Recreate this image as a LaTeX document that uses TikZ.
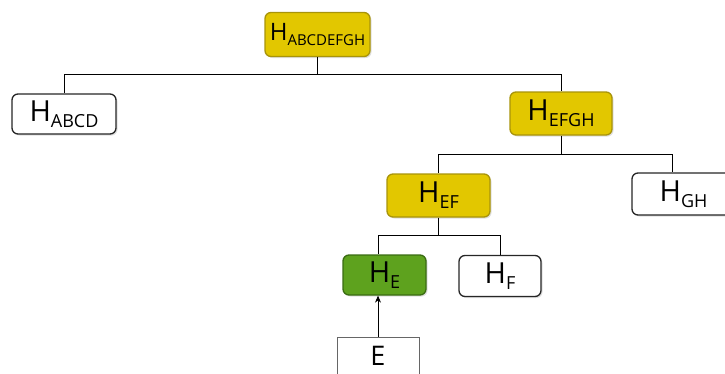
\documentclass[tikz,border=0pt]{standalone}
\usepackage{fontspec}
\setmainfont{Open Sans}
\usetikzlibrary{shadows,arrows.meta}

\definecolor{pfadgelb}{RGB}{226,199,0}
\definecolor{pfadrand}{RGB}{168,148,10}
\definecolor{blattgruen}{RGB}{94,162,30}
\definecolor{blattrand}{RGB}{58,108,18}

% Hash-Bezeichnung mit tiefgestelltem Index
\newcommand{\hashlabel}[1]{H\raisebox{-6pt}{\fontsize{18}{18}\selectfont #1}}

\begin{document}
\begin{tikzpicture}[x=1pt,y=-1pt,
  hknoten/.style={draw=black!85,line width=1.3pt,rounded corners=6pt,fill=white,
    inner sep=0pt,minimum width=103pt,minimum height=42pt,
    font=\fontsize{29}{30}\selectfont,
    drop shadow={opacity=0.25,shadow xshift=1.5pt,shadow yshift=-1.5pt}},
  pfad/.style={hknoten,fill=pfadgelb,draw=pfadrand},
  blatt/.style={hknoten,fill=blattgruen,draw=blattrand},
  daten/.style={draw=black!60,line width=0.6pt,fill=white,inner sep=0pt,
    minimum width=82pt,minimum height=38pt,font=\fontsize{27}{28}\selectfont},
  kante/.style={draw=black,line width=0.8pt}]
\useasboundingbox (0,0) rectangle (725,373);

% Knoten
\node[pfad,minimum width=105pt,minimum height=44pt,font=\fontsize{24}{25}\selectfont] (wurzel) at (317.5,34.5)
  {H\raisebox{-4.5pt}{\fontsize{15}{15}\selectfont ABCDEFGH}};
\node[hknoten,minimum width=104pt,minimum height=40pt] (habcd) at (64,114) {\hashlabel{ABCD}};
\node[pfad,minimum width=102pt,minimum height=43pt] (hefgh) at (561,113.5) {\hashlabel{EFGH}};
\node[pfad,minimum width=103pt,minimum height=43pt] (hef) at (438.5,195.5) {\hashlabel{EF}};
\node[hknoten,minimum width=103pt,minimum height=42pt] (hgh) at (683.5,194) {\hashlabel{GH}};
\node[blatt,minimum width=83pt,minimum height=40pt] (he) at (384.5,275) {\hashlabel{E}};
\node[hknoten,minimum width=82pt,minimum height=41pt] (hf) at (500,276) {\hashlabel{F}};
\node[daten] (e) at (378,356) {E};

% Verbindungen
\draw[kante] (wurzel.south) -- ++(0,17) -| (habcd.north);
\draw[kante] (wurzel.south) ++(0,17) -| (hefgh.north);
\draw[kante] (hefgh.south) -- ++(0,19) -| (hef.north);
\draw[kante] (hefgh.south) ++(0,19) -| ([xshift=-11pt]hgh.north);
\draw[kante] (hef.south) -- ++(0,18) -| (he.north -| e.north);
\draw[kante] (hef.south) ++(0,18) -| (hf.north);
\draw[kante,-{Stealth[length=7pt,width=6pt]}] (e.north) -- (e.north |- he.south);
\end{tikzpicture}
\end{document}
